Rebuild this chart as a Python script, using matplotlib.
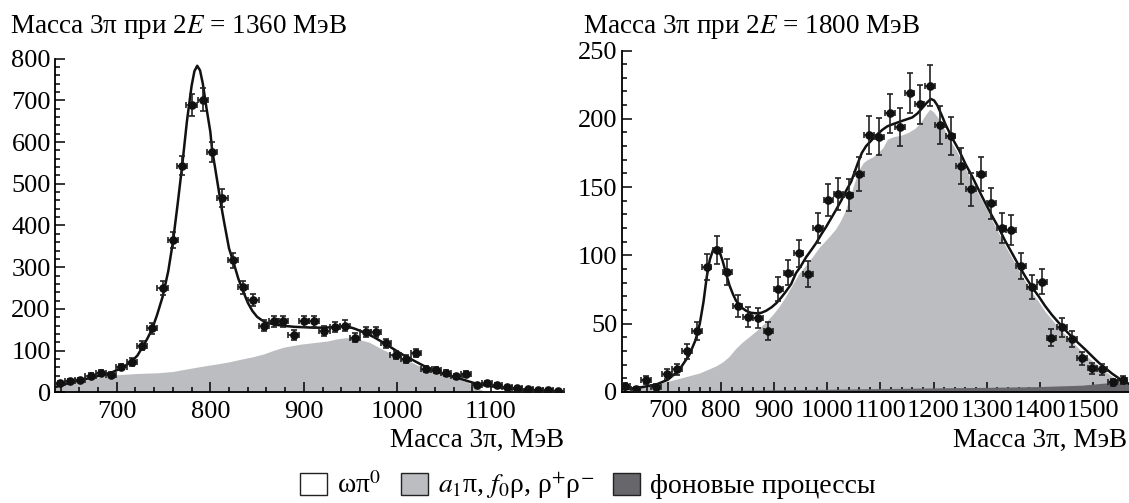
import matplotlib
matplotlib.use("Agg")
import matplotlib.pyplot as plt
from matplotlib.patches import Patch
from matplotlib.ticker import MultipleLocator

plt.rcParams['font.family'] = ['Liberation Serif', 'DejaVu Serif']
plt.rcParams['mathtext.fontset'] = 'stix'

# ---- left panel: 2E = 1360 MeV ----
left_x = [639, 650, 661, 672, 683, 694, 705, 716, 727, 738, 749, 760, 770, 780, 792,
          802, 813, 824, 835, 846, 857, 868, 878, 889, 900, 911, 922, 933, 944, 955,
          966, 977, 988, 998, 1009, 1020, 1031, 1041, 1052, 1063, 1073, 1085, 1096,
          1106, 1117, 1128, 1139, 1150, 1161, 1172]
left_y = [22, 26, 30, 40, 46, 42, 61, 73, 112, 153, 250, 365, 543, 689, 702,
          576, 466, 317, 252, 221, 160, 170, 170, 138, 170, 170, 146, 156, 160, 131,
          144, 144, 118, 90, 80, 94, 56, 54, 47, 39, 43, 18, 22,
          18, 12, 10, 8, 6, 5, 2]
left_yerr = [5, 5, 5, 6, 7, 6, 8, 9, 11, 12, 16, 19, 23, 26, 27,
             24, 22, 18, 16, 15, 13, 13, 13, 12, 13, 13, 12, 12, 13, 11,
             12, 12, 11, 9, 9, 10, 7, 7, 7, 6, 7, 4, 5,
             4, 3, 3, 3, 2, 2, 1]

left_fit_x = [634, 645, 655, 665, 675, 685, 695, 705, 715, 722, 728, 733, 738, 743, 749,
              755, 760, 765, 770, 775, 780, 783, 786, 789, 792, 796, 800, 802, 805, 810,
              813, 815, 820, 825, 830, 835, 840, 845, 850, 855, 860, 870, 880, 890, 900,
              910, 920, 930, 940, 948, 955, 965, 975, 985, 995, 1005, 1015, 1025, 1035,
              1045, 1055, 1065, 1075, 1085, 1095, 1105, 1115, 1125, 1135, 1145, 1155,
              1165, 1178]
left_fit_y = [12, 20, 26, 31, 36, 42, 48, 58, 72, 88, 110, 130, 153, 185, 229,
              290, 360, 450, 545, 650, 735, 770, 783, 772, 740, 680, 625, 580, 540, 470,
              430, 405, 345, 310, 272, 243, 215, 195, 181, 173, 167, 162, 159, 157, 156,
              155, 155, 156, 158, 157, 152, 143, 132, 119, 105, 91, 79, 67, 56,
              47, 40, 34, 27, 20, 16, 13, 10, 8, 6, 5, 4,
              3, 2]

left_a1_x = [634, 645, 655, 665, 680, 700, 720, 745, 760, 775, 790, 807, 820, 832, 845,
             857, 868, 878, 895, 910, 925, 935, 945, 952, 960, 970, 978, 985, 993, 1005,
             1017, 1026, 1035, 1045, 1053, 1064, 1074, 1082, 1088, 1093, 1097, 1178]
left_a1_y = [10, 18, 24, 29, 35, 42, 45, 47, 50, 56, 62, 68, 73, 79, 85,
             92, 101, 108, 115, 119, 123, 128, 131, 130, 126, 120, 110, 102, 93, 82,
             70, 60, 53, 46, 41, 33, 25, 16, 8, 2, 0, 0]

# ---- right panel: 2E = 1800 MeV ----
right_x = [620, 639, 659, 678, 698, 717, 736, 755, 773, 793, 812, 831, 850, 870, 889,
           908, 927, 946, 964, 983, 1002, 1021, 1040, 1060, 1079, 1098, 1118, 1137,
           1155, 1174, 1193, 1212, 1232, 1251, 1271, 1290, 1309, 1328, 1346, 1365,
           1385, 1404, 1422, 1442, 1461, 1480, 1499, 1517, 1537, 1556]
right_y = [4.6, 2, 8.8, 3.9, 13, 16.6, 30, 44.7, 91.3, 104, 87.6, 63.2, 54.7, 54, 44.7,
           75.4, 87.3, 101.5, 86.4, 119.8, 140.6, 145, 144.2, 159.4, 188, 187, 204, 194.2,
           219, 210.6, 224.2, 195.5, 187.4, 165.4, 148.4, 159.4, 138, 120.3, 118.6, 92.2,
           76.6, 80.7, 39.8, 47.4, 38.8, 24.6, 17.3, 16.6, 7.1, 8.8]
right_yerr = [2, 1.5, 3, 2, 3.6, 4, 5.5, 6.7, 9.6, 10.2, 9.4, 8, 7.4, 7.3, 6.7,
              8.7, 9.3, 10, 9.3, 11, 11.9, 12, 12, 12.6, 13.7, 13.7, 14.3, 13.9,
              14.8, 14.5, 15, 14, 13.7, 12.9, 12.2, 12.6, 11.7, 11, 10.9, 9.6,
              8.8, 9, 6.3, 6.9, 6.2, 5, 4.2, 4.1, 2.7, 3]

right_fit_x = [613, 630, 650, 678, 700, 721, 740, 752, 760, 767, 773, 779, 785, 791, 797,
               803, 810, 816, 822, 828, 838, 847, 856, 866, 876, 885, 895, 904, 913, 922,
               932, 941, 950, 960, 970, 979, 988, 998, 1007, 1016, 1026, 1035, 1045, 1057,
               1065, 1073, 1085, 1095, 1104, 1113, 1123, 1141, 1160, 1170, 1179, 1188,
               1195, 1201, 1207, 1215, 1223, 1235, 1248, 1260, 1273, 1285, 1298, 1310,
               1323, 1335, 1348, 1360, 1373, 1385, 1398, 1410, 1423, 1435, 1448, 1460,
               1473, 1486, 1499, 1511, 1524, 1536, 1549, 1557, 1568]
right_fit_y = [2, 2.5, 3.5, 5.5, 9, 16, 27, 38, 50, 66, 84, 97, 104, 106, 103,
               96, 86, 78, 72, 67, 62, 59.5, 58, 57.6, 58, 59.5, 62, 65, 69, 73.5,
               79, 87, 92, 98.6, 104, 109, 115, 121, 127, 133, 140, 147, 154, 167,
               175, 180, 185, 189, 192, 194.5, 196, 198.5, 201, 204, 208, 212,
               214.5, 213.5, 210, 203, 195.5, 186, 177, 167, 157.6, 148, 138, 129,
               120, 110.5, 101.5, 93, 84.4, 77, 70, 63, 56.4, 51, 45.4, 40.5,
               35.7, 31, 26, 21.5, 17.3, 13.5, 10, 8, 6]

right_a1_x = [613, 640, 660, 684, 722, 760, 790, 803, 815, 828, 840, 853, 870, 885, 898,
              910, 920, 929, 938, 947, 960, 972, 985, 1004, 1015, 1023, 1032, 1041, 1050,
              1060, 1068, 1075, 1085, 1095, 1105, 1113, 1125, 1139, 1152, 1165, 1175,
              1185, 1193, 1200, 1208, 1218, 1230, 1244, 1257, 1270, 1283, 1297, 1310,
              1323, 1335, 1348, 1360, 1373, 1385, 1398, 1410, 1423, 1435, 1448, 1460,
              1473, 1486, 1498, 1511, 1524, 1536, 1549, 1568]
right_a1_y = [2.5, 3.5, 5, 6.4, 10, 14, 19, 22, 26, 32, 36.5, 40.5, 46, 51.5, 57,
              63, 69, 75, 81, 87, 93, 99, 106, 114, 119, 124, 131, 141, 152,
              163, 168, 170, 172, 175, 179, 185, 187, 188, 190, 193, 197,
              203, 207, 205, 201, 194, 185, 176, 166, 156, 146, 136, 126,
              116, 107, 98, 89, 81, 73, 66, 59, 53, 47, 42, 37,
              32, 27, 23, 19, 15, 11.5, 8, 5]

right_bg_x = [613, 700, 800, 900, 1000, 1100, 1200, 1300, 1400, 1480, 1520, 1545, 1568]
right_bg_y = [0.5, 0.8, 1.2, 1.6, 2, 2.5, 3, 3.4, 4, 5, 6.5, 7, 6.5]

LIGHT = '#bcbdc1'
DARK = '#66666b'
FS_TICK = 19
FS_TEXT = 19.5
FS_LEG = 20

fig = plt.figure(figsize=(11.29, 5.03), dpi=100)
ax1 = fig.add_axes([55 / 1129, 1 - 392.3 / 503, 509 / 1129, 333.6 / 503])
ax2 = fig.add_axes([621.7 / 1129, 1 - 392 / 503, 507.3 / 1129, 341.5 / 503])


def style(ax, xlim, ylim, ymaj, ymin):
    ax.set_xlim(*xlim)
    ax.set_ylim(*ylim)
    for s in ('top', 'right'):
        ax.spines[s].set_visible(False)
    for s in ('left', 'bottom'):
        ax.spines[s].set_linewidth(1.3)
    ax.xaxis.set_major_locator(MultipleLocator(100))
    ax.xaxis.set_minor_locator(MultipleLocator(20))
    ax.yaxis.set_major_locator(MultipleLocator(ymaj))
    ax.yaxis.set_minor_locator(MultipleLocator(ymin))
    ax.tick_params(which='both', direction='in', width=1.1, labelsize=FS_TICK)
    ax.tick_params(which='major', length=7)
    ax.tick_params(which='minor', length=3.5)
    ax.tick_params(axis='x', which='both', pad=6)
    ax.tick_params(axis='y', which='both', pad=3)


def data(ax, x, y, xe, ye):
    ax.errorbar(x, y, xerr=xe, yerr=ye, fmt='o', ms=5.2, color='#111111',
                ecolor='#222222', elinewidth=1.2, capsize=2.2, capthick=1.2, zorder=5)


# left
ax1.fill_between(left_a1_x, 0, left_a1_y, color=LIGHT, lw=0, zorder=1)
ax1.plot(left_fit_x, left_fit_y, color='#111111', lw=1.8, zorder=4)
data(ax1, left_x, left_y, 5.5, left_yerr)
style(ax1, (634, 1178), (0, 800), 100, 20)

# right
ax2.fill_between(right_a1_x, 0, right_a1_y, color=LIGHT, lw=0, zorder=1)
ax2.fill_between(right_bg_x, 0, right_bg_y, color=DARK, lw=0, zorder=2)
ax2.plot(right_fit_x, right_fit_y, color='#111111', lw=1.8, zorder=4)
data(ax2, right_x, right_y, 9, right_yerr)
style(ax2, (613, 1568), (0, 250), 50, 10)

# titles and axis labels
fig.text(10 / 1129, 1 - 33 / 503, 'Масса 3π при 2$E$ = 1360 МэВ', fontsize=FS_TEXT,
         ha='left', va='baseline')
fig.text(583 / 1129, 1 - 33 / 503, 'Масса 3π при 2$E$ = 1800 МэВ', fontsize=FS_TEXT,
         ha='left', va='baseline')
fig.text(564 / 1129, 1 - 447 / 503, 'Масса 3π, МэВ', fontsize=FS_TEXT,
         ha='right', va='baseline')
fig.text(1127 / 1129, 1 - 447 / 503, 'Масса 3π, МэВ', fontsize=FS_TEXT,
         ha='right', va='baseline')

handles = [Patch(facecolor='white', edgecolor='#222222', lw=1.0),
           Patch(facecolor=LIGHT, edgecolor='#222222', lw=1.0),
           Patch(facecolor=DARK, edgecolor='#222222', lw=1.0)]
labels = ['ωπ$^{0}$', '$a_1$π, $f_0$ρ, ρ$^{+}$ρ$^{-}$', 'фоновые процессы']
fig.legend(handles, labels, loc='lower center', bbox_to_anchor=(588 / 1129, -0.03),
           ncol=3, frameon=False, fontsize=FS_LEG, handlelength=0.97, handleheight=0.86,
           handletextpad=0.36, columnspacing=0.7, borderpad=0.1)

fig.savefig('out.png', dpi=100)
